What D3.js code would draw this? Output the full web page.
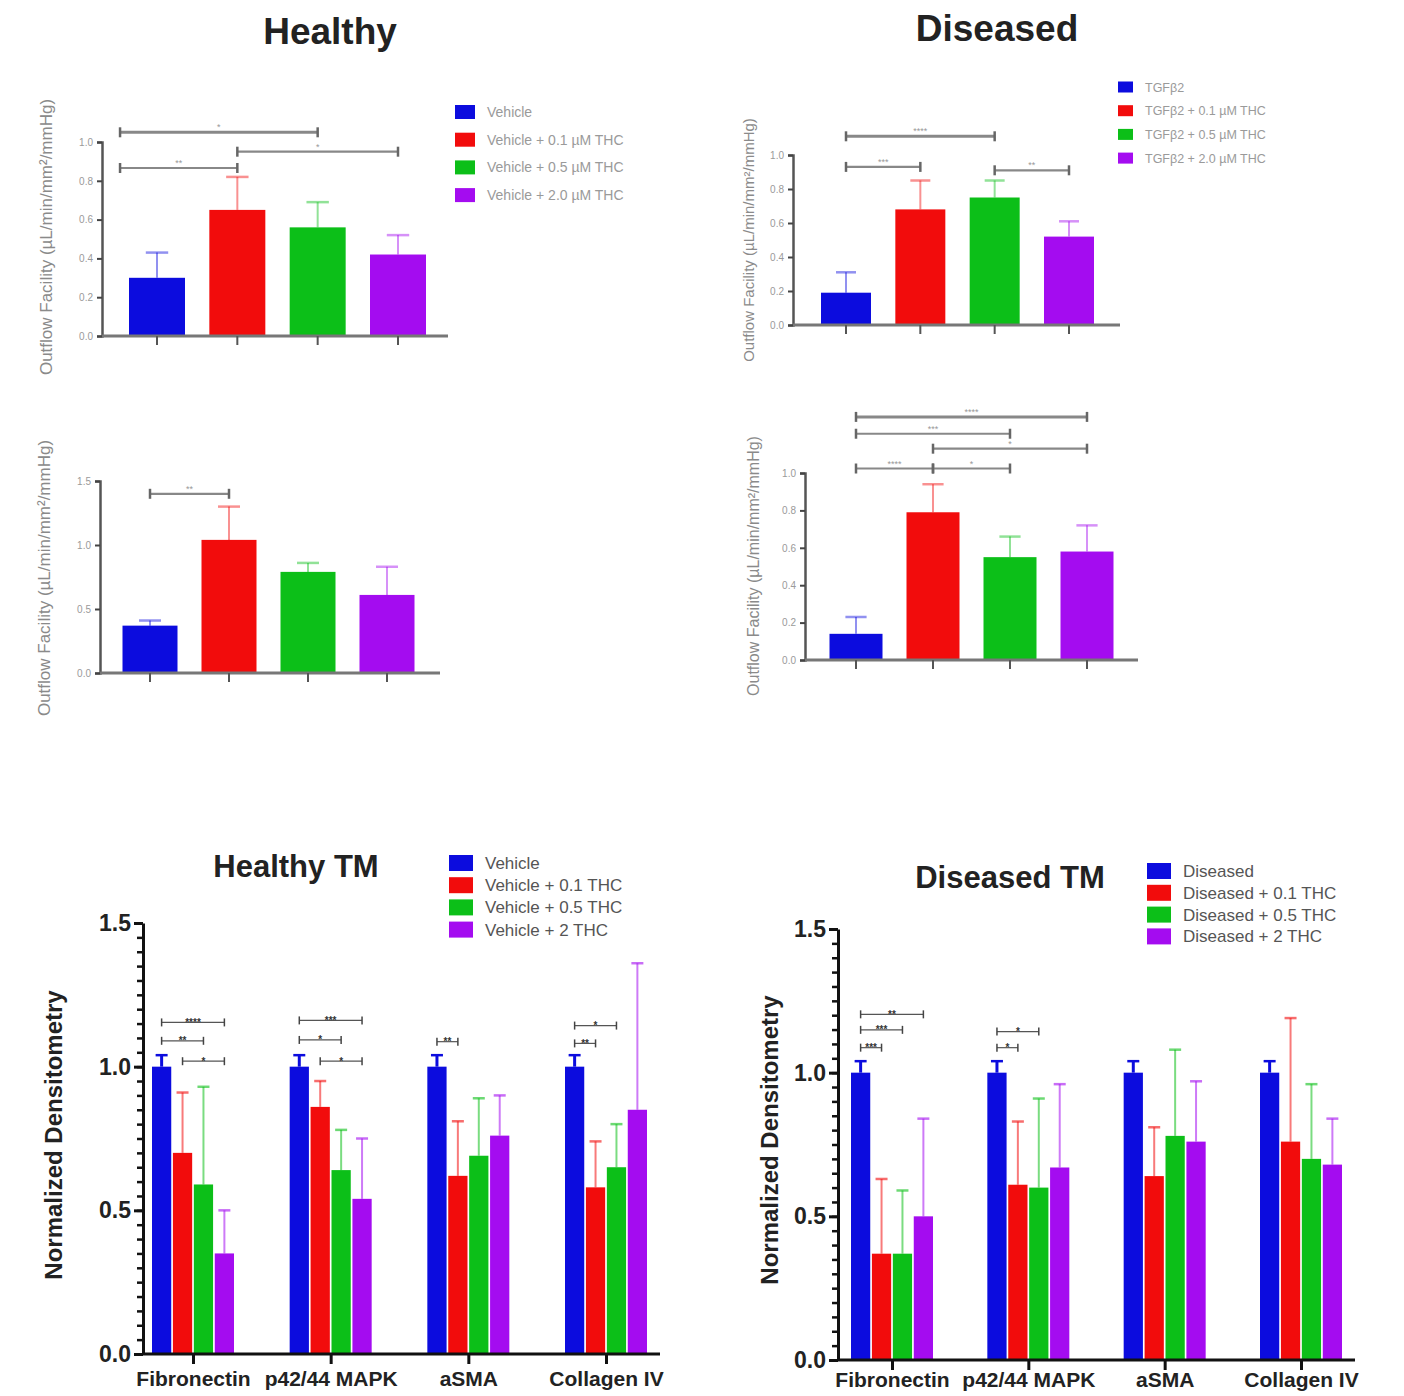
<!DOCTYPE html>
<html><head><meta charset="utf-8">
<script src="https://cdn.jsdelivr.net/npm/d3@7"></script>
<style>body{margin:0;background:#fff} svg{display:block} text{font-family:"Liberation Sans",Arial,sans-serif}</style>
</head><body><svg id="c" width="1404" height="1396"></svg>
<script>
// ---------- DATA ----------
const colors = ["#0c0cde", "#f20c0c", "#0cbf18", "#a40cf0"];

// Top: outflow facility panels
const healthyLegend = ["Vehicle", "Vehicle + 0.1 µM THC", "Vehicle + 0.5 µM THC", "Vehicle + 2.0 µM THC"];
const diseasedLegend = ["TGFβ2", "TGFβ2 + 0.1 µM THC", "TGFβ2 + 0.5 µM THC", "TGFβ2 + 2.0 µM THC"];
const yLabelTop = "Outflow Facility (µL/min/mm²/mmHg)";

const healthyAMeans = [0.30, 0.65, 0.56, 0.42];
const healthyASem   = [0.13, 0.17, 0.13, 0.10];
const healthyASig   = [[-0.46, 2, 1.05, "*"], [1, 3, 0.95, "*"], [-0.46, 1, 0.866, "**"]];

const healthyBMeans = [0.37, 1.04, 0.79, 0.61];
const healthyBSem   = [0.04, 0.26, 0.07, 0.22];
const healthyBSig   = [[0, 1, 1.40, "**"]];

const diseasedAMeans = [0.19, 0.68, 0.75, 0.52];
const diseasedASem   = [0.12, 0.17, 0.10, 0.09];
const diseasedASig   = [[0, 2, 1.11, "****"], [0, 1, 0.93, "***"], [2, 3, 0.91, "**"]];

const diseasedBMeans = [0.14, 0.79, 0.55, 0.58];
const diseasedBSem   = [0.09, 0.15, 0.11, 0.14];
const diseasedBSig   = [[0, 3, 1.30, "****"], [0, 2, 1.21, "***"], [1, 3, 1.13, "*"], [0, 1, 1.024, "****"], [1, 2, 1.024, "*"]];

// Bottom: densitometry panels
const proteins = ["Fibronectin", "p42/44 MAPK", "aSMA", "Collagen IV"];
const healthyTMLegend = ["Vehicle", "Vehicle + 0.1 THC", "Vehicle + 0.5 THC", "Vehicle + 2 THC"];
const diseasedTMLegend = ["Diseased", "Diseased + 0.1 THC", "Diseased + 0.5 THC", "Diseased + 2 THC"];

const htmVehicle     = [1.00, 1.00, 1.00, 1.00];
const htmVehicleSem  = [0.04, 0.04, 0.04, 0.04];
const htmTHC01       = [0.70, 0.86, 0.62, 0.58];
const htmTHC01Sem    = [0.21, 0.09, 0.19, 0.16];
const htmTHC05       = [0.59, 0.64, 0.69, 0.65];
const htmTHC05Sem    = [0.34, 0.14, 0.20, 0.15];
const htmTHC2        = [0.35, 0.54, 0.76, 0.85];
const htmTHC2Sem     = [0.15, 0.21, 0.14, 0.51];
// [protein index, series a, series b, height, label]
const htmSig = [[0,0,3,1.154,"****"],[0,0,2,1.09,"**"],[0,1,3,1.019,"*"],
                [1,0,3,1.161,"***"],[1,0,2,1.093,"*"],[1,1,3,1.019,"*"],
                [2,0,1,1.087,"**"],
                [3,0,2,1.143,"*"],[3,0,1,1.081,"**"]];

const dtmDiseased    = [1.00, 1.00, 1.00, 1.00];
const dtmDiseasedSem = [0.04, 0.04, 0.04, 0.04];
const dtmTHC01       = [0.37, 0.61, 0.64, 0.76];
const dtmTHC01Sem    = [0.26, 0.22, 0.17, 0.43];
const dtmTHC05       = [0.37, 0.60, 0.78, 0.70];
const dtmTHC05Sem    = [0.22, 0.31, 0.30, 0.26];
const dtmTHC2        = [0.50, 0.67, 0.76, 0.68];
const dtmTHC2Sem     = [0.34, 0.29, 0.21, 0.16];
const dtmSig = [[0,0,3,1.203,"**"],[0,0,2,1.149,"***"],[0,0,1,1.087,"***"],
                [1,0,2,1.143,"*"],[1,0,1,1.087,"*"]];

// ---------- DRAWING ----------
const svg = d3.select("#c");

function topPanel(o) {
  const g = svg.append("g");
  const y = d3.scaleLinear().domain([0, o.dMax]).range([o.y0, o.yTop]);
  const x = d3.scaleLinear().domain([0, 3]).range(o.xr);
  g.selectAll("rect.bar").data(o.means).join("rect")
    .attr("x", (d, i) => x(i) - o.bw / 2).attr("y", d => y(d))
    .attr("width", o.bw).attr("height", d => y(0) - y(d))
    .attr("fill", (d, i) => colors[i]);
  o.means.forEach((m, i) => {
    const c = colors[i], t = y(m + o.sems[i]);
    g.append("line").attr("x1", x(i)).attr("x2", x(i)).attr("y1", y(m)).attr("y2", t)
      .attr("stroke", c).attr("stroke-opacity", 0.45).attr("stroke-width", 2);
    g.append("line").attr("x1", x(i) - o.bw * 0.2).attr("x2", x(i) + o.bw * 0.2).attr("y1", t).attr("y2", t)
      .attr("stroke", c).attr("stroke-opacity", 0.45).attr("stroke-width", 2.5);
  });
  const ya = g.append("g").attr("transform", `translate(${o.ax},0)`)
    .call(d3.axisLeft(y).tickValues(d3.range(0, o.dMax + 1e-9, o.step)).tickFormat(d3.format(".1f")).tickSize(5).tickPadding(4));
  ya.select(".domain").attr("stroke", "#555").attr("stroke-width", 2.5);
  ya.selectAll(".tick line").attr("stroke", "#444").attr("stroke-width", 2);
  ya.selectAll(".tick text").attr("fill", "#9a9a9a").attr("font-size", 10);
  g.append("line").attr("x1", o.ax).attr("x2", o.xEnd).attr("y1", y(0)).attr("y2", y(0))
    .attr("stroke", "#777").attr("stroke-width", 3);
  o.means.forEach((m, i) => {
    g.append("line").attr("x1", x(i)).attr("x2", x(i)).attr("y1", y(0)).attr("y2", y(0) + 9)
      .attr("stroke", "#555").attr("stroke-width", 2);
  });
  o.sigs.forEach(([a, b, v, lab], k) => {
    const yy = y(v), w = (k === 0 && o.sigs.length > 1) ? 3 : 2.2;
    g.append("line").attr("x1", x(a)).attr("x2", x(b)).attr("y1", yy).attr("y2", yy)
      .attr("stroke", "#888").attr("stroke-width", w);
    [a, b].forEach(p => g.append("line").attr("x1", x(p)).attr("x2", x(p)).attr("y1", yy - 5).attr("y2", yy + 5)
      .attr("stroke", "#666").attr("stroke-width", 2.5));
    g.append("text").attr("x", (x(a) + x(b)) / 2).attr("y", yy - 2).attr("text-anchor", "middle")
      .attr("font-size", 9).attr("fill", "#999").text(lab);
  });
  g.append("text").attr("transform", `translate(${o.lx},${o.ly}) rotate(-90)`)
    .attr("text-anchor", "middle").attr("font-size", o.lfs || 16).attr("fill", "#8a8a8a").text(yLabelTop);
}

function topLegend(labels, x0, yc, dy, sw, sh, fs) {
  const g = svg.append("g");
  labels.forEach((l, i) => {
    g.append("rect").attr("x", x0).attr("y", yc[0] + i * dy - sh / 2).attr("width", sw).attr("height", sh).attr("fill", colors[i]);
    g.append("text").attr("x", x0 + sw + 12).attr("y", yc[0] + i * dy + fs * 0.36).attr("font-size", fs)
      .attr("fill", "#9a9a9a").text(l);
  });
}

function tmPanel(o) {
  const g = svg.append("g");
  const y = d3.scaleLinear().domain([0, 1.5]).range([o.y0, o.y0 - 431]);
  const gx = d3.scalePoint().domain(proteins).range(o.xr);
  const inner = d3.scaleBand().domain(d3.range(4)).range([-41, 41]).paddingInner(0.08);
  const bw = inner.bandwidth();
  o.series.forEach((vals, s) => {
    vals.forEach((v, p) => {
      const cx = gx(proteins[p]) + inner(s) + bw / 2;
      g.append("rect").attr("x", cx - bw / 2).attr("y", y(v)).attr("width", bw).attr("height", y(0) - y(v)).attr("fill", colors[s]);
      const t = y(v + o.sems[s][p]);
      g.append("line").attr("x1", cx).attr("x2", cx).attr("y1", y(v)).attr("y2", t)
        .attr("stroke", colors[s]).attr("stroke-opacity", s === 0 ? 1 : 0.55).attr("stroke-width", s === 0 ? 3 : 2);
      g.append("line").attr("x1", cx - 6).attr("x2", cx + 6).attr("y1", t).attr("y2", t)
        .attr("stroke", colors[s]).attr("stroke-opacity", s === 0 ? 1 : 0.6).attr("stroke-width", 2.5);
    });
  });
  const ya = g.append("g").attr("transform", `translate(${o.ax},0)`);
  ya.call(d3.axisLeft(y).tickValues(d3.range(0, 1.5001, 0.05)).tickFormat("").tickSize(6));
  ya.select(".domain").remove();
  ya.selectAll(".tick line").attr("stroke", "#111").attr("stroke-width", 2.5);
  const yb = g.append("g").attr("transform", `translate(${o.ax},0)`)
    .call(d3.axisLeft(y).tickValues([0, 0.5, 1.0, 1.5]).tickFormat(d3.format(".1f")).tickSize(9).tickPadding(3).tickSizeOuter(0));
  yb.select(".domain").attr("stroke", "#111").attr("stroke-width", 3);
  yb.selectAll(".tick line").attr("stroke", "#111").attr("stroke-width", 3);
  yb.selectAll(".tick text").attr("fill", "#222").attr("font-size", 23).attr("font-weight", "bold");
  g.append("line").attr("x1", o.ax).attr("x2", o.xEnd).attr("y1", y(0)).attr("y2", y(0)).attr("stroke", "#111").attr("stroke-width", 3);
  const xa = g.append("g").attr("transform", `translate(0,${y(0)})`)
    .call(d3.axisBottom(gx).tickSize(10).tickPadding(o.xpad).tickSizeOuter(0));
  xa.select(".domain").remove();
  xa.selectAll(".tick line").attr("stroke", "#111").attr("stroke-width", 3);
  xa.selectAll(".tick text").attr("fill", "#222").attr("font-size", 21).attr("font-weight", "bold");
  o.sigs.forEach(([p, a, b, v, lab]) => {
    const xa1 = gx(proteins[p]) + inner(a) + bw / 2, xb1 = gx(proteins[p]) + inner(b) + bw / 2, yy = y(v);
    g.append("line").attr("x1", xa1).attr("x2", xb1).attr("y1", yy).attr("y2", yy).attr("stroke", "#555").attr("stroke-width", 1.2);
    [xa1, xb1].forEach(px => g.append("line").attr("x1", px).attr("x2", px).attr("y1", yy - 4).attr("y2", yy + 4)
      .attr("stroke", "#444").attr("stroke-width", 1.5));
    g.append("text").attr("x", (xa1 + xb1) / 2).attr("y", yy + 3.5).attr("text-anchor", "middle")
      .attr("font-size", 10).attr("font-weight", "bold").attr("fill", "#333").text(lab);
  });
  g.append("text").attr("transform", `translate(${o.lx},${o.ly}) rotate(-90)`)
    .attr("text-anchor", "middle").attr("font-size", 24).attr("font-weight", "bold").attr("fill", "#222").text("Normalized Densitometry");
  g.append("text").attr("x", o.tx).attr("y", o.ty).attr("text-anchor", "middle")
    .attr("font-size", 31).attr("font-weight", "bold").attr("fill", "#222").text(o.title);
  o.legend.forEach((l, i) => {
    const yc = o.lgY + i * o.lgDy;
    g.append("rect").attr("x", o.lgX).attr("y", yc - 8).attr("width", 24).attr("height", 16).attr("fill", colors[i]);
    g.append("text").attr("x", o.lgX + 36).attr("y", yc + 6).attr("font-size", 17).attr("fill", "#555").text(l);
  });
}

svg.append("text").attr("x", 330).attr("y", 44).attr("text-anchor", "middle").attr("font-size", 37)
  .attr("font-weight", "bold").attr("fill", "#222").text("Healthy");
svg.append("text").attr("x", 997).attr("y", 41).attr("text-anchor", "middle").attr("font-size", 37)
  .attr("font-weight", "bold").attr("fill", "#222").text("Diseased");

topPanel({means: healthyAMeans, sems: healthyASem, sigs: healthyASig, xr: [157, 398], bw: 56,
  ax: 102, xEnd: 448, y0: 336, yTop: 142, dMax: 1.0, step: 0.2, lx: 52, ly: 237, lfs: 17});
topPanel({means: healthyBMeans, sems: healthyBSem, sigs: healthyBSig, xr: [150, 387], bw: 55,
  ax: 100, xEnd: 440, y0: 673, yTop: 481, dMax: 1.5, step: 0.5, lx: 50, ly: 578, lfs: 17});
topPanel({means: diseasedAMeans, sems: diseasedASem, sigs: diseasedASig, xr: [846, 1069], bw: 50,
  ax: 793, xEnd: 1120, y0: 325, yTop: 155, dMax: 1.0, step: 0.2, lx: 754, ly: 240, lfs: 15});
topPanel({means: diseasedBMeans, sems: diseasedBSem, sigs: diseasedBSig, xr: [856, 1087], bw: 53,
  ax: 805, xEnd: 1138, y0: 660, yTop: 473, dMax: 1.0, step: 0.2, lx: 759, ly: 566, lfs: 16});

topLegend(healthyLegend, 455, [112], 27.7, 20, 14, 14);
topLegend(diseasedLegend, 1118, [87], 23.7, 15, 11, 12.5);

tmPanel({series: [htmVehicle, htmTHC01, htmTHC05, htmTHC2], sems: [htmVehicleSem, htmTHC01Sem, htmTHC05Sem, htmTHC2Sem],
  sigs: htmSig, xr: [193, 606], ax: 143, xEnd: 660, y0: 1354, lx: 62, ly: 1135, xpad: 7,
  title: "Healthy TM", tx: 296, ty: 877, legend: healthyTMLegend, lgX: 449, lgY: 863, lgDy: 22.2});
tmPanel({series: [dtmDiseased, dtmTHC01, dtmTHC05, dtmTHC2], sems: [dtmDiseasedSem, dtmTHC01Sem, dtmTHC05Sem, dtmTHC2Sem],
  sigs: dtmSig, xr: [892, 1301], ax: 838, xEnd: 1355, y0: 1360, lx: 778, ly: 1140, xpad: 2,
  title: "Diseased TM", tx: 1010, ty: 888, legend: diseasedTMLegend, lgX: 1147, lgY: 871, lgDy: 21.8});
</script></body></html>
